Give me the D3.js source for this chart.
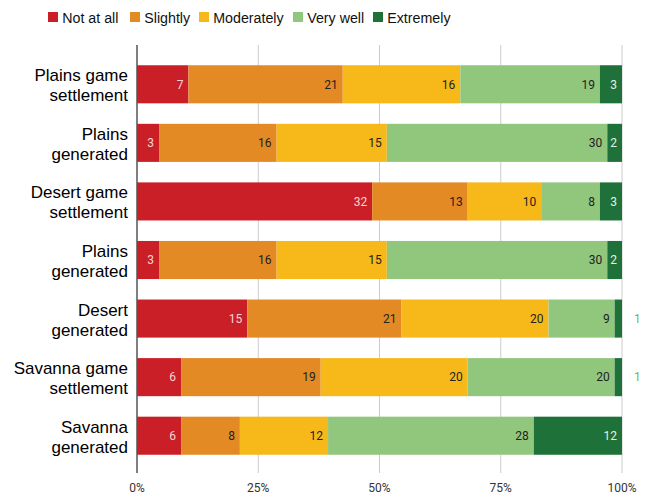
<!DOCTYPE html>
<html>
<head>
<meta charset="utf-8">
<script src="https://cdn.jsdelivr.net/npm/d3@7"></script>
<style>
  body { margin: 0; background: #fff; }
  svg { display: block; }
</style>
</head>
<body>
<div id="chart"></div>
<script>
// categories, top to bottom
var categories = [
  ["Plains game", "settlement"],
  ["Plains", "generated"],
  ["Desert game", "settlement"],
  ["Plains", "generated"],
  ["Desert", "generated"],
  ["Savanna game", "settlement"],
  ["Savanna", "generated"]
];
var seriesNames = ["Not at all", "Slightly", "Moderately", "Very well", "Extremely"];
var notAtAll   = [7, 3, 32, 3, 15, 6, 6];
var slightly   = [21, 16, 13, 16, 21, 19, 8];
var moderately = [16, 15, 10, 15, 20, 20, 12];
var veryWell   = [19, 30, 8, 30, 9, 20, 28];
var extremely  = [3, 2, 3, 2, 1, 1, 12];
var tickLabels = ["0%", "25%", "50%", "75%", "100%"];
var colors = ["#cb1f27", "#e48a24", "#f7b91a", "#91c67d", "#1e7139"];
var labelColors = ["#f6d6d6", "#222", "#222", "#222", "#e3f0e3"];

var width = 663, height = 497;
var svg = d3.select("#chart").append("svg")
  .attr("width", width).attr("height", height);

var series = [notAtAll, slightly, moderately, veryWell, extremely];
var rows = categories.map(function(c, i) {
  var r = {idx: i};
  seriesNames.forEach(function(s, j) { r[s] = series[j][i]; });
  return r;
});
var stacked = d3.stack().keys(seriesNames).offset(d3.stackOffsetExpand)(rows);

var x = d3.scaleLinear().domain([0, 1]).range([137, 622]);
var y = d3.scaleBand().domain(d3.range(categories.length))
  .range([55, 465]).paddingInner(0.35).paddingOuter(0.175);

// gridlines
svg.append("g").selectAll("line")
  .data([0.25, 0.5, 0.75, 1]).enter().append("line")
  .attr("x1", function(d){ return x(d); })
  .attr("x2", function(d){ return x(d); })
  .attr("y1", 45).attr("y2", 473)
  .attr("stroke", "#cccccc").attr("stroke-width", 1);

// bars
var layer = svg.append("g").selectAll("g")
  .data(stacked).enter().append("g")
  .attr("fill", function(d, i){ return colors[i]; });

layer.selectAll("rect")
  .data(function(d){ return d; }).enter().append("rect")
  .attr("x", function(d){ return x(d[0]); })
  .attr("width", function(d){ return x(d[1]) - x(d[0]); })
  .attr("y", function(d){ return y(d.data.idx); })
  .attr("height", y.bandwidth());

// value labels
stacked.forEach(function(s, si) {
  s.forEach(function(d) {
    var v = d.data[s.key];
    var w = x(d[1]) - x(d[0]);
    var inside = w > 14;
    svg.append("text")
      .attr("x", inside ? x(d[1]) - 5 : x(1) + 12)
      .attr("y", y(d.data.idx) + y.bandwidth() / 2)
      .attr("dy", "0.36em")
      .attr("text-anchor", inside ? "end" : "start")
      .style("font-family", "Roboto, sans-serif")
      .style("font-size", "12px")
      .attr("fill", inside ? labelColors[si] : "#74b263")
      .text(v);
  });
});

// axis line
svg.append("line")
  .attr("x1", x(0)).attr("x2", x(0))
  .attr("y1", 45).attr("y2", 473)
  .attr("stroke", "#555").attr("stroke-width", 1.5);

// category labels
var catLab = svg.append("g").selectAll("text")
  .data(categories).enter().append("text")
  .attr("text-anchor", "end")
  .style("font-family", "'Liberation Sans', Arial, sans-serif")
  .style("font-size", "17px")
  .attr("fill", "#000");
catLab.each(function(c, i) {
  var t = d3.select(this);
  var cy = y(i) + y.bandwidth() / 2;
  c.forEach(function(line, k) {
    t.append("tspan").attr("x", 128).attr("y", cy - 3 + k * 20).text(line);
  });
});

// x tick labels
svg.append("g").selectAll("text")
  .data(tickLabels).enter().append("text")
  .attr("x", function(d, i){ return x(i / 4); })
  .attr("y", 492)
  .attr("text-anchor", "middle")
  .style("font-family", "Roboto, sans-serif")
  .style("font-size", "12px")
  .attr("fill", "#333")
  .text(function(d){ return d; });

// legend
var legendX = [48, 130, 199, 293, 373];
var leg = svg.append("g").selectAll("g")
  .data(seriesNames).enter().append("g")
  .attr("transform", function(d, i){ return "translate(" + legendX[i] + ",12)"; });
leg.append("rect").attr("width", 10).attr("height", 10)
  .attr("fill", function(d, i){ return colors[i]; });
leg.append("text").attr("x", 15).attr("y", 10.5)
  .style("font-family", "'Liberation Sans', Arial, sans-serif")
  .style("font-size", "15px")
  .attr("fill", "#111")
  .attr("transform", "scale(0.95,1)")
  .text(function(d){ return d; });
</script>
</body>
</html>
